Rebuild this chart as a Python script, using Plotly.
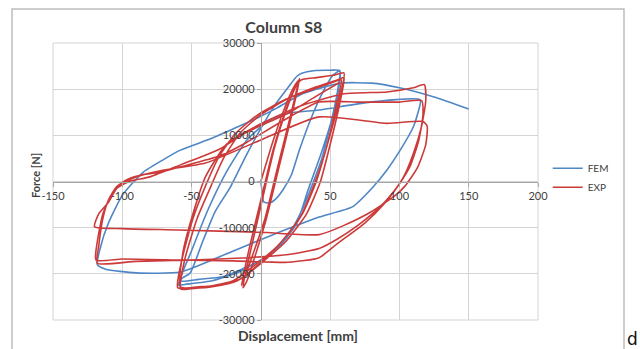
import plotly.graph_objects as go

# ---------------- data ----------------
x_ticks = [-150, -100, -50, 50, 100, 150, 200]
y_ticks = [-30000, -20000, -10000, 0, 10000, 20000, 30000]

# FEM hysteresis (displacement mm, force N)
fem_first_x = [0, 1, 2, 6, 11, 16, 22, 28, 36, 45, 52, 57]
fem_first_y = [0, -2500, -4400, -4700, -3700, -1800, 1400, 7000, 13500, 19500, 23000, 24000]
fem_cyc1_x = [55, 50, 44, 38, 30, 20, 5, -15, -35, -55, -60,
              -57, -51, -42, -33, -22, -10, 0, 10, 20, 26, 30, 38, 50, 57]
fem_cyc1_y = [19000, 12000, 5000, 0, -6000, -11500, -16000, -19500, -21500, -22300, -22500,
              -21000, -19800, -13000, -6500, -1200, 6000, 11500, 16500, 20500, 22800, 23500, 24000, 24100, 24000]
fem_cyc2_x = [53, 44, 34, 26, 15, 0, -27, -45, -58,
              -50, -38, -25, -10, 5, 20, 42, 79, 115]
fem_cyc2_y = [15500, 6500, -1900, -9000, -13500, -17000, -20600, -21200, -21500,
              -15000, -6000, 2000, 9000, 13000, 14800, 15500, 17200, 17700]
fem_big_x = [113, 110, 101, 91, 80, 66, 42, 14, -22, -58, -90, -112, -118,
             -116, -110, -100, -85, -70, -58, -35, -17, -3, 11.5, 30, 57, 80, 100, 125, 150]
fem_big_y = [14500, 11800, 7000, 2500, -1500, -5500, -7700, -10900, -15300, -19600, -19800, -19000, -18000,
             -14500, -9000, -3000, 2000, 4800, 6800, 9400, 11800, 13700, 15900, 19000, 21300, 21300, 20300, 18300, 15700]

# EXP hysteresis
exp_small_x = [0, 8, 16, 23, 27, 22, 12, 3, -6, -12, -14,
               -8, 0, 9, 18, 25, 28, 22, 13, 4, -4, -10, -13,
               -7, 1, 10, 19, 26, 29]
exp_small_y = [0, 8000, 15000, 20000, 21800, 15000, 3000, -8000, -16000, -21000, -22500,
               -14000, -4000, 7000, 15500, 20500, 22300, 14000, 3000, -8000, -16000, -21500, -23000,
               -14500, -4000, 7500, 16000, 21000, 22000]
exp_mid_x = [40, 52, 60,
             56, 48, 40, 30, 15, 0, -17, -35, -50, -58,
             -55, -46, -36, -27, -15, 0, 20, 40, 55, 60,
             57, 50, 43, 33, 18, 3, -14, -30, -45, -60,
             -57, -49, -40, -30, -18, -2, 18, 38, 52, 58,
             54, 47, 38, 28, 12, -3, -20, -38, -58]
exp_mid_y = [22500, 23000, 23500,
             17000, 8000, 0, -7000, -13000, -17500, -21500, -22800, -23200, -23300,
             -17000, -8000, -1000, 5000, 10500, 14500, 18000, 20500, 22000, 22500,
             17000, 8000, 0, -7000, -13000, -17000, -21000, -22500, -22800, -23000,
             -17000, -8000, -1000, 5500, 10500, 14500, 17800, 20000, 21500, 22000,
             16000, 7000, -1000, -8000, -14000, -17800, -21500, -22700, -22800]
exp_large_x = [-56, -48, -40, -25, 0, 30, 60, 91, 110, 118,
               119, 116, 110, 103, 95, 86, 70, 55, 42, 20, -10, -50, -90, -118,
               -117, -114, -110, -104, -96, -85, -73, -58, -30, -10, 15, 42, 70, 100, 116,
               117, 114, 108, 100, 90, 75, 55, 42, 20, -20, -60, -100, -119,
               -118, -114, -108, -102, -90, -70, -40, 0, 42, 91, 117, 120,
               119, 113, 104, 97, 80, 60, 42, 0, -60, -100, -120,
               -117, -110, -104, -95, -80, -58, -30, -10, 21, 40, 57]
exp_large_y = [-15000, -6000, 1000, 8000, 12500, 16500, 19000, 19400, 20300, 21000,
               17500, 12000, 6000, 1000, -2500, -5500, -9500, -12500, -14500, -15800, -16500, -17000, -17300, -17700,
               -14000, -8000, -4000, -1100, 500, 1500, 2000, 3200, 5500, 8500, 13000, 17200, 17200, 17200, 17500,
               14500, 9000, 3500, -500, -4500, -9000, -13500, -16500, -17500, -17200, -17000, -16800, -17000,
               -13000, -7000, -3000, -700, 1000, 2500, 4000, 9000, 14000, 12600, 13000, 12000,
               8000, 3000, -1000, -3000, -6500, -9500, -11500, -11000, -10500, -10200, -9800,
               -7000, -4500, -1500, 0, 1000, 3600, 7000, 10700, 15000, 18500, 21500]

fem_x = fem_first_x + fem_cyc1_x + fem_cyc2_x + fem_big_x
fem_y = fem_first_y + fem_cyc1_y + fem_cyc2_y + fem_big_y
exp_x = exp_small_x + exp_mid_x + exp_large_x
exp_y = exp_small_y + exp_mid_y + exp_large_y

# ---------------- figure ----------------
BLUE = "#4f86c6"
RED = "#cc3a3a"
GRID = "#d4d4d4"
TXT = "#404040"
FONT = "Lato, Open Sans, sans-serif"

fig = go.Figure()
fig.add_trace(go.Scatter(x=fem_x, y=fem_y, mode="lines", name="FEM",
                         line=dict(color=BLUE, width=1.6, shape="spline", smoothing=0.55)))
fig.add_trace(go.Scatter(x=exp_x, y=exp_y, mode="lines", name="EXP",
                         line=dict(color=RED, width=1.6, shape="spline", smoothing=0.55)))

fig.update_layout(
    width=640, height=349,
    margin=dict(l=53, r=102, t=43, b=29),
    paper_bgcolor="white", plot_bgcolor="white",
    font=dict(family=FONT, size=11, color=TXT),
    showlegend=True,
    legend=dict(x=1.02, y=0.60, xanchor="left", yanchor="top",
                font=dict(size=10, color=TXT), bgcolor="rgba(0,0,0,0)",
                tracegroupgap=2, itemwidth=30),
    title=dict(text="<b>Column S8</b>", x=0.476, xref="paper", xanchor="center",
               y=1 - 27 / 349, yref="container", yanchor="middle",
               font=dict(size=16, color=TXT, family=FONT)),
)

fig.update_xaxes(range=[-150, 200], tickvals=x_ticks, ticktext=[str(v) for v in x_ticks],
                 showgrid=True, gridcolor=GRID, gridwidth=1, zeroline=False,
                 showline=True, linecolor="#a6a6a6", linewidth=1,
                 ticks="outside", ticklen=4, tickcolor="#a6a6a6",
                 anchor="free", position=0.5, tickfont=dict(size=11, color=TXT))
fig.update_yaxes(range=[-30000, 30000], tickvals=y_ticks, ticktext=[str(v) for v in y_ticks],
                 showgrid=True, gridcolor=GRID, gridwidth=1, zeroline=False,
                 showline=True, linecolor="#a6a6a6", linewidth=1,
                 ticks="outside", ticklen=4, tickcolor="#a6a6a6",
                 anchor="free", position=150 / 350, tickfont=dict(size=11, color=TXT))

# plot-area frame and chart-area border
fig.add_shape(type="rect", xref="paper", yref="paper", x0=0, x1=1, y0=0, y1=1,
              line=dict(color=GRID, width=1), layer="below")
fig.add_shape(type="rect", xref="paper", yref="paper",
              x0=(12 - 53) / 485, x1=(624 - 53) / 485, y0=(320 - 355) / 277, y1=(320 - 9) / 277,
              line=dict(color="#bdbdbd", width=1.5), layer="below")

fig.add_annotation(text="<b>Displacement [mm]</b>", xref="paper", yref="paper",
                   x=(298 - 53) / 485, y=(320 - 335) / 277, showarrow=False,
                   font=dict(size=14, color=TXT), xanchor="center", yanchor="middle")
fig.add_annotation(text="<b>Force [N]</b>", xref="paper", yref="paper",
                   x=(35 - 53) / 485, y=(320 - 176) / 277, showarrow=False, textangle=-90,
                   font=dict(size=11, color=TXT), xanchor="center", yanchor="middle")
fig.add_annotation(text="d", xref="paper", yref="paper",
                   x=(632 - 53) / 485, y=(320 - 339) / 277, showarrow=False,
                   font=dict(size=17, color="#111111", family="DejaVu Sans"),
                   xanchor="center", yanchor="middle")

fig.write_html("out.html")
